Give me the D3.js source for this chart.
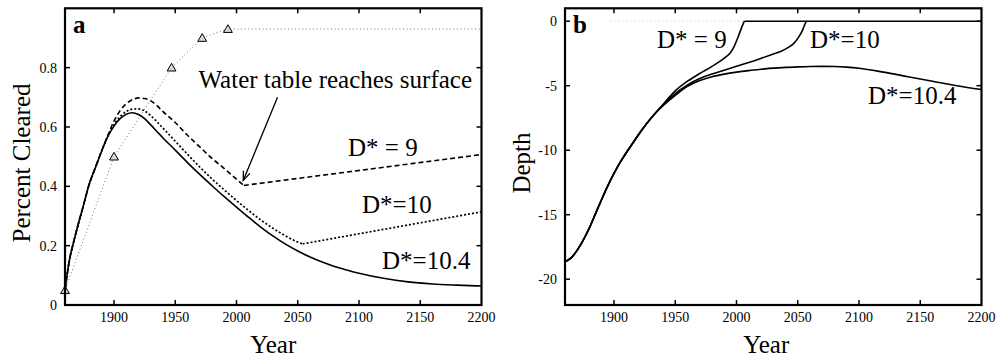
<!DOCTYPE html>
<html><head><meta charset="utf-8">
<script src="https://cdn.jsdelivr.net/npm/d3@7"></script>
<style>body{margin:0;background:#fff}text{font-family:"Liberation Serif","Times New Roman",serif;fill:#000}</style>
</head><body>
<svg id="chart" width="996" height="358"></svg>
<script>
// ---------- data ----------
const xTicks = [1900, 1950, 2000, 2050, 2100, 2150, 2200];
const yTicksA = [0, 0.2, 0.4, 0.6, 0.8];
const yTickLabelsA = ["0", "0.2", "0.4", "0.6", "0.8"];
const yTicksB = [0, -5, -10, -15, -20];
const yTickLabelsB = ["0", "-5", "-10", "-15", "-20"];

// Panel a: observed clearing (triangles)
const clearedYears = [1860, 1900, 1947, 1972, 1993];
const clearedValues = [0.05, 0.5, 0.8, 0.9, 0.93];

// Panel a: D*=10.4 (solid)
const yearsA104 = [1860,1862,1864,1866,1870,1875,1880,1885,1890,1895,1900,1905,1910,1915,1920,1925,1930,1935,1940,1950,1960,1970,1980,1990,2000,2010,2020,2030,2040,2050,2060,2070,2080,2090,2100,2120,2140,2160,2180,2200];
const clearedA104 = [0.05,0.11,0.16,0.195,0.26,0.335,0.41,0.465,0.52,0.568,0.603,0.628,0.643,0.648,0.642,0.628,0.607,0.585,0.563,0.522,0.48,0.44,0.402,0.365,0.33,0.295,0.262,0.232,0.205,0.182,0.162,0.145,0.13,0.118,0.107,0.09,0.078,0.071,0.067,0.064];

// Panel a: D*=9 (dashed) – before and after water table reaches surface
const yearsA9 = [1860,1862,1864,1866,1870,1875,1880,1885,1890,1895,1900,1905,1910,1915,1920,1925,1930,1935,1940,1950,1960,1970,1980,1990,2000,2006];
const clearedA9 = [0.05,0.11,0.16,0.195,0.26,0.335,0.41,0.465,0.52,0.572,0.62,0.655,0.678,0.692,0.698,0.696,0.688,0.672,0.652,0.615,0.572,0.533,0.494,0.46,0.424,0.403];
const yearsA9After = [2006, 2200];
const clearedA9After = [0.403, 0.507];

// Panel a: D*=10 (dotted)
const yearsA10 = [1860,1862,1864,1866,1870,1875,1880,1885,1890,1895,1900,1905,1910,1915,1920,1925,1930,1935,1940,1950,1960,1970,1980,1990,2000,2010,2020,2030,2040,2050,2054];
const clearedA10 = [0.05,0.11,0.16,0.195,0.26,0.335,0.41,0.465,0.52,0.57,0.608,0.635,0.652,0.66,0.661,0.654,0.638,0.618,0.596,0.552,0.508,0.465,0.425,0.388,0.352,0.318,0.286,0.258,0.233,0.212,0.206];
const yearsA10After = [2054, 2200];
const clearedA10After = [0.206, 0.314];

// Panel b: depth, shared early part
const yearsBCommon = [1860,1865,1870,1875,1880,1885,1890,1895,1900,1905,1910,1915,1920,1925,1930,1935];
const depthBCommon = [-18.65,-18.35,-17.75,-16.95,-16.0,-14.9,-13.8,-12.75,-11.8,-10.95,-10.2,-9.5,-8.8,-8.15,-7.55,-7.0];
const yearsB9 = [1940,1950,1960,1970,1980,1990,1995,1998,2001,2003.5,2005,2006.5];
const depthB9 = [-6.45,-5.4,-4.65,-4.05,-3.5,-2.87,-2.45,-1.97,-1.3,-0.67,-0.3,0];
const yearsB10 = [1940,1950,1960,1970,1980,1990,2000,2010,2020,2030,2036,2042,2047,2051,2054,2056,2057];
const depthB10 = [-6.5,-5.62,-4.95,-4.45,-4.1,-3.8,-3.5,-3.2,-2.88,-2.55,-2.35,-2.05,-1.7,-1.2,-0.67,-0.2,0];
const yearsB104 = [1940,1950,1960,1970,1980,1990,2000,2010,2020,2030,2040,2050,2060,2070,2080,2090,2100,2120,2140,2160,2180,2200];
const depthB104 = [-6.55,-5.75,-5.05,-4.6,-4.3,-4.1,-3.95,-3.83,-3.73,-3.64,-3.58,-3.54,-3.51,-3.5,-3.51,-3.56,-3.65,-3.95,-4.3,-4.65,-5.0,-5.3];
const surfaceYears = [2006.5, 2200];
const surfaceDepth = [0, 0];

const seriesLabels = ["D* = 9", "D*=10", "D*=10.4"];
const annotationText = "Water table reaches surface";
const arrowFrom = [2033.5, 0.70];
const arrowTo = [2005.5, 0.42];

// ---------- drawing ----------
const svg = d3.select("#chart");
const zip = (xs, ys) => xs.map((x, i) => [x, ys[i]]);

const defs = svg.append("defs");
defs.append("marker").attr("id", "arrow").attr("viewBox", "-10 -6 12 12")
  .attr("refX", 0).attr("refY", 0).attr("markerWidth", 12).attr("markerHeight", 12)
  .attr("markerUnits", "userSpaceOnUse").attr("orient", "auto")
  .append("path").attr("d", "M-9,-3.5L0,0L-9,3.5").attr("fill", "none").attr("stroke", "#000").attr("stroke-width", 1.3);

function panel(x0, yDomain, yTicks, yLabels, yTitle, letter) {
  const x = d3.scaleLinear().domain([1860, 2200]).range([x0, x0 + 416.5]);
  const y = d3.scaleLinear().domain(yDomain).range([305, 8.3]);
  const g = svg.append("g");
  const [L, R] = x.range(); const [B, T] = y.range();
  const tl = 5;
  const ticks = g.append("g").attr("stroke", "#000").attr("stroke-width", 1.5);
  xTicks.filter(t => t < 2200).forEach(t => {
    ticks.append("line").attr("x1", x(t)).attr("x2", x(t)).attr("y1", B).attr("y2", B - tl);
    ticks.append("line").attr("x1", x(t)).attr("x2", x(t)).attr("y1", T).attr("y2", T + tl);
  });
  yTicks.forEach(t => {
    ticks.append("line").attr("x1", L).attr("x2", L + tl).attr("y1", y(t)).attr("y2", y(t));
    ticks.append("line").attr("x1", R).attr("x2", R - tl).attr("y1", y(t)).attr("y2", y(t));
  });
  xTicks.forEach(t => {
    g.append("text").attr("x", x(t)).attr("y", 322).attr("text-anchor", "middle")
      .style("font-size", "14px").text(String(t));
  });
  yTicks.forEach((t, i) => {
    g.append("text").attr("x", L - 8).attr("y", y(t)).attr("dy", "0.35em").attr("text-anchor", "end")
      .style("font-size", "14px").text(yLabels[i]);
  });
  g.append("text").attr("x", (L + R) / 2 - (letter === "b" ? 7 : 0)).attr("y", 353).attr("text-anchor", "middle")
    .style("font-size", "25px").text("Year");
  g.append("text").attr("transform", `translate(${L - 35},163) rotate(-90)`).attr("text-anchor", "middle")
    .style("font-size", "25px").text(yTitle);
  g.append("text").attr("x", L + 8).attr("y", 33).style("font-size", "25px").style("font-weight", "bold").text(letter);
  return { x, y, g, L, R, B, T };
}

function frame(p) {
  p.g.append("rect").attr("x", p.L).attr("y", p.T).attr("width", p.R - p.L).attr("height", p.B - p.T)
    .attr("fill", "none").attr("stroke", "#000").attr("stroke-width", 2.2);
}

function line(p, pts, opts) {
  const gen = d3.line().x(d => p.x(d[0])).y(d => p.y(d[1])).curve(opts.curve || d3.curveMonotoneX);
  return p.g.append("path").attr("d", gen(pts)).attr("fill", "none")
    .attr("stroke", opts.color || "#000").attr("stroke-width", opts.width || 1.6)
    .attr("stroke-dasharray", opts.dash || null).attr("stroke-linecap", opts.cap || "butt");
}

// ---- panel a ----
const A = panel(65, [0, 1], yTicksA, yTickLabelsA, "Percent Cleared", "a");
const clearPts = zip(clearedYears, clearedValues);
line(A, clearPts.concat([[2200, clearedValues[clearedValues.length - 1]]]),
  { curve: d3.curveLinear, color: "#777", width: 1, dash: "1,2.6" });
line(A, zip(yearsA104, clearedA104), {});
line(A, zip(yearsA10, clearedA10), { dash: "2,2", width: 1.7 });
line(A, zip(yearsA10After, clearedA10After), { curve: d3.curveLinear, dash: "2,2", width: 1.7 });
line(A, zip(yearsA9, clearedA9), { dash: "5,3" });
line(A, zip(yearsA9After, clearedA9After), { curve: d3.curveLinear, dash: "5,3" });
A.g.selectAll(".tri").data(clearPts).join("path")
  .attr("transform", d => `translate(${A.x(d[0])},${A.y(d[1]) + 0.8})`)
  .attr("d", d3.symbol().type(d3.symbolTriangle).size(34))
  .attr("fill", "#d8d8d8").attr("stroke", "#000").attr("stroke-width", 1);
A.g.append("line").attr("x1", A.x(arrowFrom[0])).attr("y1", A.y(arrowFrom[1]))
  .attr("x2", A.x(arrowTo[0])).attr("y2", A.y(arrowTo[1]))
  .attr("stroke", "#000").attr("stroke-width", 1.3).attr("marker-end", "url(#arrow)");
A.g.append("text").attr("x", 472).attr("y", 88).attr("text-anchor", "end").style("font-size", "25px").text(annotationText);
A.g.append("text").attr("x", 348).attr("y", 156).style("font-size", "25px").text(seriesLabels[0]);
A.g.append("text").attr("x", 362).attr("y", 213).style("font-size", "25px").text(seriesLabels[1]);
A.g.append("text").attr("x", 382).attr("y", 269).style("font-size", "25px").text(seriesLabels[2]);
frame(A);

// ---- panel b ----
const Bp = panel(565, [-22, 1], yTicksB, yTickLabelsB, "Depth", "b");
line(Bp, [[1897, 0], [2200, 0]], { curve: d3.curveLinear, color: "#bbb", width: 1, dash: "1,3" });
const common = zip(yearsBCommon, depthBCommon);
line(Bp, common.concat(zip(yearsB104, depthB104)), {});
line(Bp, common.concat(zip(yearsB10, depthB10)), {});
line(Bp, common.concat(zip(yearsB9, depthB9)), {});
line(Bp, zip(surfaceYears, surfaceDepth), { curve: d3.curveLinear });
Bp.g.append("text").attr("x", 657).attr("y", 47.5).style("font-size", "25px").text(seriesLabels[0]);
Bp.g.append("text").attr("x", 810).attr("y", 47.5).style("font-size", "25px").text(seriesLabels[1]);
Bp.g.append("text").attr("x", 868).attr("y", 104).style("font-size", "25px").text(seriesLabels[2]);
frame(Bp);
</script>
</body></html>
